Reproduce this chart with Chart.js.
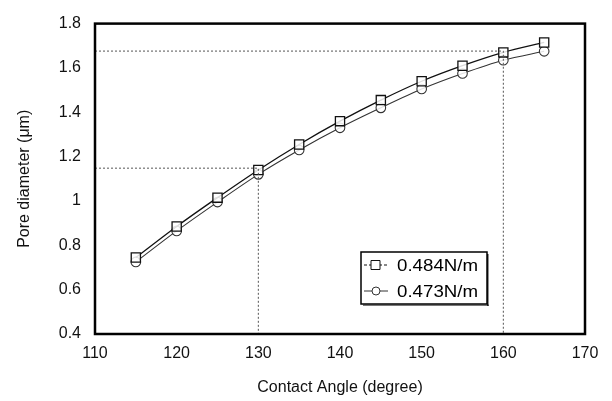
<!DOCTYPE html>
<html>
<head>
<meta charset="utf-8">
<script src="https://cdn.jsdelivr.net/npm/chart.js@4.4.1/dist/chart.umd.min.js"></script>
<style>
  html, body { margin: 0; padding: 0; background: #fff; }
  #wrap { width: 612px; height: 401px; }
</style>
</head>
<body>
<div id="wrap"><canvas id="chart" width="612" height="401"></canvas></div>
<script>
// ── Data ─────────────────────────────────────────────────────────────────────
const angles = [115, 120, 125, 130, 135, 140, 145, 150, 155, 160, 165];
const dia484 = [0.745, 0.885, 1.015, 1.140, 1.255, 1.360, 1.455, 1.540, 1.610, 1.670, 1.715];
const dia473 = [0.725, 0.865, 0.995, 1.120, 1.230, 1.330, 1.420, 1.505, 1.575, 1.635, 1.675];
const seriesLabels = ['0.484N/m', '0.473N/m'];

// dotted read-off lines (angle -> diameter)
const refAngles = [130, 160];
const refDiameters = [1.148, 1.676];

const xTicks = [110, 120, 130, 140, 150, 160, 170];
const yTicks = [0.4, 0.6, 0.8, 1, 1.2, 1.4, 1.6, 1.8];

// ── Datasets ─────────────────────────────────────────────────────────────────
const toXY = ys => angles.map((a, i) => ({ x: a, y: ys[i] }));

const refSets = refAngles.map((a, i) => ({
  label: 'ref' + i,
  data: [{ x: xTicks[0], y: refDiameters[i] }, { x: a, y: refDiameters[i] }, { x: a, y: yTicks[0] }],
  borderColor: '#555',
  borderWidth: 1,
  borderDash: [2, 2],
  pointRadius: 0,
  fill: false,
  tension: 0,
}));

const mainSets = [
  {
    label: seriesLabels[0],
    data: toXY(dia484),
    borderColor: '#111',
    borderWidth: 1.3,
    pointStyle: 'rect',
    pointRadius: 6.5,
    pointBorderWidth: 1.3,
    pointBorderColor: '#111',
    pointBackgroundColor: 'rgba(255,255,255,0.85)',
    tension: 0.3,
  },
  {
    label: seriesLabels[1],
    data: toXY(dia473),
    borderColor: '#333',
    borderWidth: 1.1,
    pointStyle: 'circle',
    pointRadius: 4.8,
    pointBorderWidth: 1.1,
    pointBorderColor: '#333',
    pointBackgroundColor: 'rgba(255,255,255,0.85)',
    tension: 0.3,
  },
];

// ── Plugins ──────────────────────────────────────────────────────────────────
const frame = {
  id: 'frame',
  afterDatasetsDraw(chart) {
    const { ctx, chartArea: a } = chart;
    ctx.save();
    ctx.strokeStyle = '#000';
    ctx.lineWidth = 2.5;
    ctx.strokeRect(a.left, a.top, a.right - a.left, a.bottom - a.top);
    ctx.restore();
  }
};

const boxLegend = {
  id: 'boxLegend',
  afterDraw(chart) {
    const { ctx, chartArea: a } = chart;
    const w = 126, h = 52;
    const x = a.right - 98 - w, y = a.bottom - 30 - h;
    ctx.save();
    ctx.fillStyle = '#fff';
    ctx.fillRect(x, y, w, h);
    ctx.fillStyle = '#777';
    ctx.fillRect(x + 2, y + h + 0.5, w, 1.5);
    ctx.fillStyle = '#222';
    ctx.fillRect(x + w, y + 2, 1.5, h);
    ctx.strokeStyle = '#000';
    ctx.lineWidth = 1.5;
    ctx.strokeRect(x, y, w, h);

    ctx.font = '17px "Liberation Sans", Arial, sans-serif';
    ctx.textBaseline = 'middle';
    mainSets.forEach((ds, i) => {
      const cy = y + 13 + i * 26;
      ctx.strokeStyle = ds.borderColor;
      ctx.lineWidth = 1;
      ctx.setLineDash(i === 0 ? [3, 2] : []);
      ctx.beginPath();
      ctx.moveTo(x + 3, cy);
      ctx.lineTo(x + 27, cy);
      ctx.stroke();
      ctx.setLineDash([]);
      ctx.fillStyle = '#fff';
      ctx.beginPath();
      if (i === 0) ctx.rect(x + 10, cy - 4.5, 9, 9);
      else ctx.arc(x + 15, cy, 4, 0, Math.PI * 2);
      ctx.fill();
      ctx.stroke();
      ctx.fillStyle = '#000';
      ctx.save();
      ctx.translate(x + 36, cy + 1);
      ctx.scale(1.1, 1);
      ctx.fillText(ds.label, 0, 0);
      ctx.restore();
    });
    ctx.restore();
  }
};

// ── Chart ────────────────────────────────────────────────────────────────────
const tickFont = { family: '"Liberation Sans", Arial, sans-serif', size: 16 };
const titleFont = { family: '"Liberation Sans", Arial, sans-serif', size: 16 };

new Chart(document.getElementById('chart'), {
  type: 'line',
  data: { datasets: [...refSets, ...mainSets] },
  options: {
    responsive: false,
    animation: false,
    layout: { padding: { top: 19, right: 27, left: 0, bottom: 0 } },
    plugins: { legend: { display: false }, tooltip: { enabled: false } },
    scales: {
      x: {
        type: 'linear',
        min: xTicks[0],
        max: xTicks[xTicks.length - 1],
        afterBuildTicks: s => { s.ticks = xTicks.map(v => ({ value: v })); },
        afterFit: s => { s.height = 67; },
        grid: { display: false, drawTicks: false },
        border: { display: false },
        ticks: { color: '#111', font: tickFont, padding: 10 },
        title: { display: true, text: 'Contact Angle (degree)', color: '#111', font: titleFont, padding: { top: 4 } },
      },
      y: {
        type: 'linear',
        min: yTicks[0],
        max: yTicks[yTicks.length - 1],
        afterBuildTicks: s => { s.ticks = yTicks.map(v => ({ value: v })); },
        afterFit: s => { s.width = 95; },
        grid: { display: false, drawTicks: false },
        border: { display: false },
        ticks: { color: '#111', font: tickFont, padding: 14, callback: v => String(+v.toFixed(1)) },
        title: { display: true, text: 'Pore diameter (μm)', color: '#111', font: titleFont, padding: { top: 15, bottom: 0 } },
      }
    }
  },
  plugins: [frame, boxLegend]
});
</script>
</body>
</html>
